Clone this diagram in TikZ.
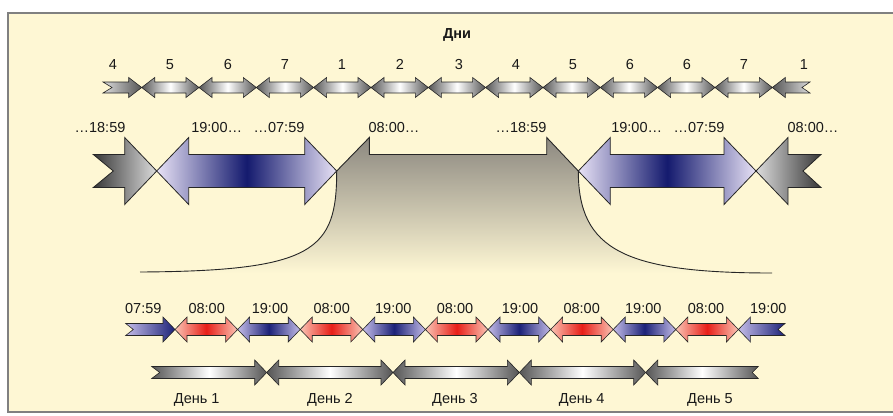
\documentclass[tikz,border=0pt]{standalone}
\usepackage{fontspec}
\setmainfont{Liberation Sans}
\definecolor{bg}{RGB}{254,247,212}
\definecolor{frameline}{RGB}{128,128,128}
\definecolor{lav}{RGB}{232,226,246}
\definecolor{navy}{RGB}{20,26,110}
\definecolor{slav}{RGB}{196,188,232}
\definecolor{snavy}{RGB}{28,34,120}
\definecolor{salmon}{RGB}{250,196,180}
\definecolor{bred}{RGB}{232,30,24}
\definecolor{dgray}{RGB}{55,55,55}
\definecolor{mgray}{RGB}{85,85,85}
\definecolor{lgray}{RGB}{220,220,220}
\definecolor{regtop}{RGB}{140,136,128}
\newcommand\rowpar[4]{\def\Ayc{#1}\def\Ahl{#2}\def\Ahh{#3}\def\Ash{#4}}
% double-headed arrow from tip x1 to tip x2
\newcommand\darr[3]{\path[#3] (#1,\Ayc) -- ({#1+\Ahl},{\Ayc-\Ahh}) -- ({#1+\Ahl},{\Ayc-\Ash}) -- ({#2-\Ahl},{\Ayc-\Ash}) -- ({#2-\Ahl},{\Ayc-\Ahh}) -- (#2,\Ayc) -- ({#2-\Ahl},{\Ayc+\Ahh}) -- ({#2-\Ahl},{\Ayc+\Ash}) -- ({#1+\Ahl},{\Ayc+\Ash}) -- ({#1+\Ahl},{\Ayc+\Ahh}) -- cycle;}
% notched tail at x1, head at x2
\newcommand\tarr[4]{\path[#4] (#1,{\Ayc-\Ash}) -- ({#2-\Ahl},{\Ayc-\Ash}) -- ({#2-\Ahl},{\Ayc-\Ahh}) -- (#2,\Ayc) -- ({#2-\Ahl},{\Ayc+\Ahh}) -- ({#2-\Ahl},{\Ayc+\Ash}) -- (#1,{\Ayc+\Ash}) -- ({#1+#3},\Ayc) -- cycle;}
% head at x1, notched tail at x2
\newcommand\earr[4]{\path[#4] (#1,\Ayc) -- ({#1+\Ahl},{\Ayc-\Ahh}) -- ({#1+\Ahl},{\Ayc-\Ash}) -- (#2,{\Ayc-\Ash}) -- ({#2-#3},\Ayc) -- (#2,{\Ayc+\Ash}) -- ({#1+\Ahl},{\Ayc+\Ash}) -- ({#1+\Ahl},{\Ayc+\Ahh}) -- cycle;}
\tikzset{
  outl/.style={draw=black!85, line width=0.6pt, line join=miter},
  grayarr/.style={outl, left color=mgray, right color=mgray, middle color=white},
  bluesm/.style={outl, left color=slav, right color=slav, middle color=snavy},
  redsm/.style={outl, left color=salmon, right color=salmon, middle color=bred},
  bluebig/.style={draw=black!85, line width=0.8pt, left color=lav, right color=lav, middle color=navy},
  lbl/.style={anchor=base, inner sep=0pt, text=black!90},
}
\begin{document}
\begin{tikzpicture}[x=1pt, y=-1pt, font=\fontsize{14.5}{16}\selectfont]
\useasboundingbox (0,0) rectangle (893,415);
\fill[white] (0,0) rectangle (893,415);
\fill[bg] (8,13) rectangle (893,412);
\draw[frameline, line width=1.5pt] (893,13) -- (8,13) -- (8,412) -- (893,412);

% title
\node[lbl, font=\fontsize{14.5}{16}\selectfont\bfseries] (title) at (457,38) {Дни};

% ---- top row: days of the week
\rowpar{87.5}{13}{10}{5.5}
\tarr{103}{141.7}{9}{outl, left color=lgray, right color=mgray}
\foreach \a/\b in {141.7/199, 199/256.3, 256.3/313.6, 313.6/371, 371/428.3, 428.3/485.6, 485.6/543, 543/600.3, 600.3/657.6, 657.6/715, 715/772.3}
  {\darr{\a}{\b}{grayarr}}
\earr{772.3}{810}{8}{outl, left color=mgray, right color=lgray}
\foreach \x/\t [count=\i] in {113/4, 170/5, 228/6, 285/7, 342/1, 400/2, 459/3, 516/4, 573/5, 630/6, 687/6, 744/7, 804/1}
  {\node[lbl] (wd\i) at (\x,69) {\t};}

% ---- middle: gray region with curves
\shade[top color=regtop, bottom color=bg]
  (336.7,171) -- (369.3,137.5) -- (369.3,154.5) -- (546.7,154.5) -- (546.7,137.5) -- (578.3,171)
  .. controls (578.3,250) and (625,273) .. (772,273) -- (140,272)
  .. controls (315,271) and (336.7,250) .. (336.7,171) -- cycle;
\draw[black!85, line width=0.9pt]
  (140,272) .. controls (315,271) and (336.7,250) .. (336.7,171)
  -- (369.3,137.5) -- (369.3,154.5) -- (546.7,154.5) -- (546.7,137.5) -- (578.3,171)
  .. controls (578.3,250) and (625,273) .. (772,273);

\rowpar{171}{32}{33.5}{16.5}
\tarr{93.3}{156.7}{20}{draw=black!85, line width=0.8pt, left color=dgray, right color=lgray}
\darr{156.7}{336.7}{bluebig}
\darr{578.3}{756}{bluebig}
\earr{756}{821}{18}{draw=black!85, line width=0.8pt, left color=lgray, right color=dgray}

\node[lbl] (m1) at (100,132) {…18:59};
\node[lbl] (m2) at (216.7,132) {19:00…};
\node[lbl] (m3) at (279,132) {…07:59};
\node[lbl] (m4) at (394,132) {08:00…};
\node[lbl] (m5) at (521,132) {…18:59};
\node[lbl] (m6) at (636.7,132) {19:00…};
\node[lbl] (m7) at (699,132) {…07:59};
\node[lbl] (m8) at (813,132) {08:00…};

% ---- hour row
\rowpar{329.5}{12}{12.5}{6}
\tarr{125.7}{175}{7.6}{outl, left color=slav, right color=snavy}
\foreach \a/\b/\s in {175/237.6/redsm, 237.6/300.2/bluesm, 300.2/362.8/redsm, 362.8/425.4/bluesm, 425.4/488/redsm, 488/550.6/bluesm, 550.6/613.2/redsm, 613.2/675.8/bluesm, 675.8/738.4/redsm}
  {\darr{\a}{\b}{\s}}
\earr{738.4}{785}{7}{outl, left color=slav, right color=snavy}
\foreach \x/\t [count=\i] in {143.3/07:59, 206.7/08:00, 270/19:00, 331.7/08:00, 393.3/19:00, 455/08:00, 520/19:00, 581.7/08:00, 643.3/19:00, 706/08:00, 768.3/19:00}
  {\node[lbl] (h\i) at (\x,313) {\t};}

% ---- day row
\rowpar{372.5}{12}{12.5}{6}
\tarr{151.7}{266.7}{8}{grayarr}
\darr{266.7}{393}{grayarr}
\darr{393}{519.3}{grayarr}
\darr{519.3}{645.7}{grayarr}
\earr{645.7}{758.3}{6}{grayarr}
\foreach \x/\t [count=\i] in {196.7/1, 330/2, 455/3, 581.7/4, 710/5}
  {\node[lbl] (d\i) at (\x,403) {День \t};}
\end{tikzpicture}
\end{document}
